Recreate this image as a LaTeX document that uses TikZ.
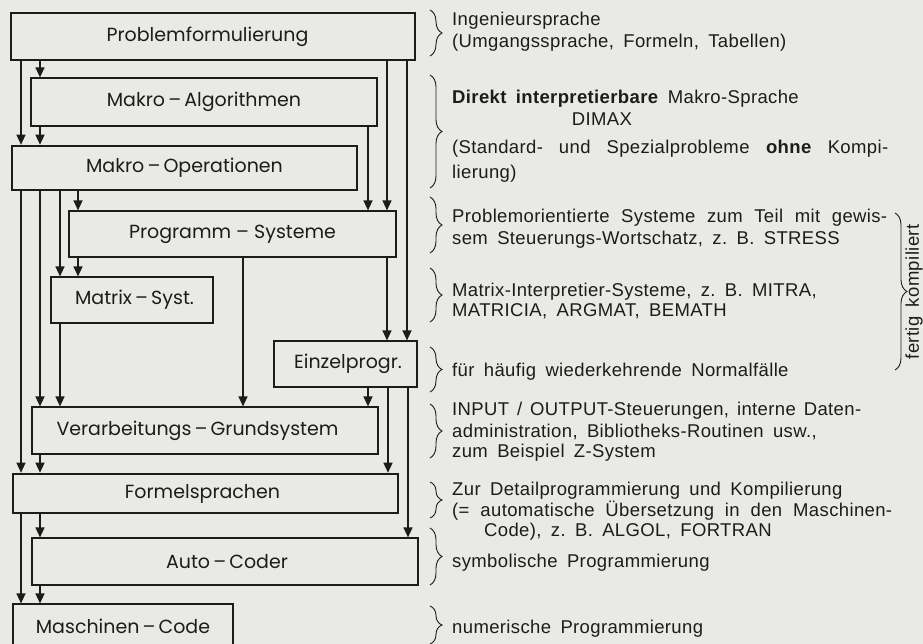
\documentclass[tikz,border=0pt]{standalone}
\usepackage{fontspec}
\setmainfont{Liberation Sans}[LetterSpace=2.0, WordSpace=1.7]
\newfontfamily\boxfont{Poppins}
\usetikzlibrary{arrows.meta,decorations.pathreplacing}
\definecolor{bg}{RGB}{233,233,230}
\definecolor{ink}{RGB}{28,28,28}
\frenchspacing
\begin{document}
\begin{tikzpicture}[x=1pt,y=-1pt,
  box/.style={draw=ink, line width=1.2pt, rectangle, inner sep=0pt, text=ink,
    font=\boxfont\fontsize{19}{22}\selectfont},
  thickbox/.style={box, line width=2.6pt},
  arr/.style={draw=ink, line width=1.3pt, -{Triangle[width=9pt,length=10pt]}},
  brc/.style={draw=ink, line width=0.9pt, decorate, decoration={brace, amplitude=12pt}},
  txt/.style={anchor=base west, inner sep=0pt, text=ink, font=\fontsize{18.5}{22}\selectfont}]
\useasboundingbox (0,0) rectangle (923,644);
\clip (0,0) rectangle (923,644);
\fill[bg] (0,0) rectangle (923,644);

% boxes
\node[box, minimum width=404pt, minimum height=47pt] (pf) at (213,36.5) {\kern-11pt Problemformulierung};
\node[box, minimum width=346pt, minimum height=48pt] (ma) at (204,102) {Makro\,–\,Algorithmen};
\node[thickbox, minimum width=345pt, minimum height=44pt] (mo) at (184.5,168) {Makro\,–\,Operationen};
\node[box, minimum width=327pt, minimum height=46pt] (ps) at (232.5,234) {Programm – Systeme};
\node[box, minimum width=162pt, minimum height=46pt] (mx) at (132,300) {\kern5pt Matrix\,–\,Syst.};
\node[box, minimum width=143pt, minimum height=46pt] (ez) at (345.5,364) {\kern5pt Einzelprogr.};
\node[box, minimum width=346pt, minimum height=47pt] (vg) at (205,430.5) {\kern-15pt Verarbeitungs\,–\,Grundsystem};
\node[thickbox, minimum width=385pt, minimum height=39pt] (fs) at (205.5,493.5) {\kern-6pt Formelsprachen};
\node[box, minimum width=386pt, minimum height=47pt] (ac) at (225,561.5) {\kern4pt Auto\,–\,Coder};
\node[box, minimum width=220pt, minimum height=44pt, text depth=0pt] (mc) at (123,626) {Maschinen\,–\,Code};

% connectors
\draw[arr] (21,0 |- pf.south) -- (21,0 |- mo.north);
\draw[arr] (40,0 |- pf.south) -- (40,0 |- ma.north);
\draw[arr] (40,0 |- ma.south) -- (40,0 |- mo.north);
\draw[arr] (387,0 |- pf.south) -- (387,0 |- ps.north);
\draw[arr] (407,0 |- pf.south) -- (407,0 |- ez.north);
\draw[arr] (368,0 |- ma.south) -- (368,0 |- ps.north);
\draw[arr] (21,0 |- mo.south) -- (21,0 |- fs.north);
\draw[arr] (40,0 |- mo.south) -- (40,0 |- vg.north);
\draw[arr] (60,0 |- mo.south) -- (60,0 |- mx.north);
\draw[arr] (78,0 |- mo.south) -- (78,0 |- ps.north);
\draw[arr] (78,0 |- ps.south) -- (78,0 |- mx.north);
\draw[arr] (243,0 |- ps.south) -- (243,0 |- vg.north);
\draw[arr] (387,0 |- ps.south) -- (387,0 |- ez.north);
\draw[arr] (60,0 |- mx.south) -- (60,0 |- vg.north);
\draw[arr] (368,0 |- ez.south) -- (368,0 |- vg.north);
\draw[arr] (388,0 |- ez.south) -- (388,0 |- fs.north);
\draw[arr] (408,0 |- ez.south) -- (408,0 |- ac.north);
\draw[arr] (40,0 |- vg.south) -- (40,0 |- fs.north);
\draw[arr] (21,0 |- fs.south) -- (21,0 |- mc.north);
\draw[arr] (40,0 |- fs.south) -- (40,0 |- ac.north);
\draw[arr] (40,0 |- ac.south) -- (40,0 |- mc.north);

% braces
\draw[brc] (430,10) -- (430,56);
\draw[brc] (430,75) -- (430,188);
\draw[brc] (430,197) -- (430,253);
\draw[brc] (430,268) -- (430,322);
\draw[brc] (430,347) -- (430,392);
\draw[brc] (430,404) -- (430,458);
\draw[brc] (430,482) -- (430,518);
\draw[brc] (430,528) -- (430,585);
\draw[brc] (430,606) -- (430,644);
\draw[brc] (895,213) -- (895,370);

% texts
\node[txt] (t1) at (452,26) {Ingenieursprache};
\node[txt] (t2) at (452,48) {(Umgangssprache, Formeln, Tabellen)};
\node[txt] (t3) at (452,104) {\textbf{Direkt interpretierbare} Makro-Sprache};
\node[txt, anchor=base] (t4) at (602,126) {DIMAX};
\node[txt] (t5) at (452,154) {\makebox[436pt][s]{(Standard- und Spezialprobleme \textbf{ohne} Kompi-}};
\node[txt] (t6) at (452,179) {lierung)};
\node[txt] (t7) at (452,223) {\makebox[435pt][s]{Problemorientierte Systeme zum Teil mit gewis-}};
\node[txt] (t8) at (452,245) {sem Steuerungs-Wortschatz, z. B. STRESS};
\node[txt] (t9) at (452,296) {Matrix-Interpretier-Systeme, z. B. MITRA,};
\node[txt] (t10) at (452,316) {MATRICIA, ARGMAT, BEMATH};
\node[txt] (t11) at (452,376) {für häufig wiederkehrende Normalfälle};
\node[txt] (t12) at (452,415) {\makebox[409pt][s]{INPUT / OUTPUT-Steuerungen, interne Daten-}};
\node[txt] (t13) at (452,437) {administration, Bibliotheks-Routinen usw.,};
\node[txt] (t14) at (452,457) {zum Beispiel Z-System};
\node[txt] (t15) at (452,495) {Zur Detailprogrammierung und Kompilierung};
\node[txt] (t16) at (452,516) {\makebox[440pt][s]{(= automatische Übersetzung in den Maschinen-}};
\node[txt] (t17) at (484,536) {Code), z. B. ALGOL, FORTRAN};
\node[txt] (t18) at (452,567) {symbolische Programmierung};
\node[txt] (t19) at (452,633) {numerische Programmierung};
\node[txt, anchor=center, rotate=90] (t20) at (914,292) {fertig kompiliert};
\end{tikzpicture}
\end{document}
